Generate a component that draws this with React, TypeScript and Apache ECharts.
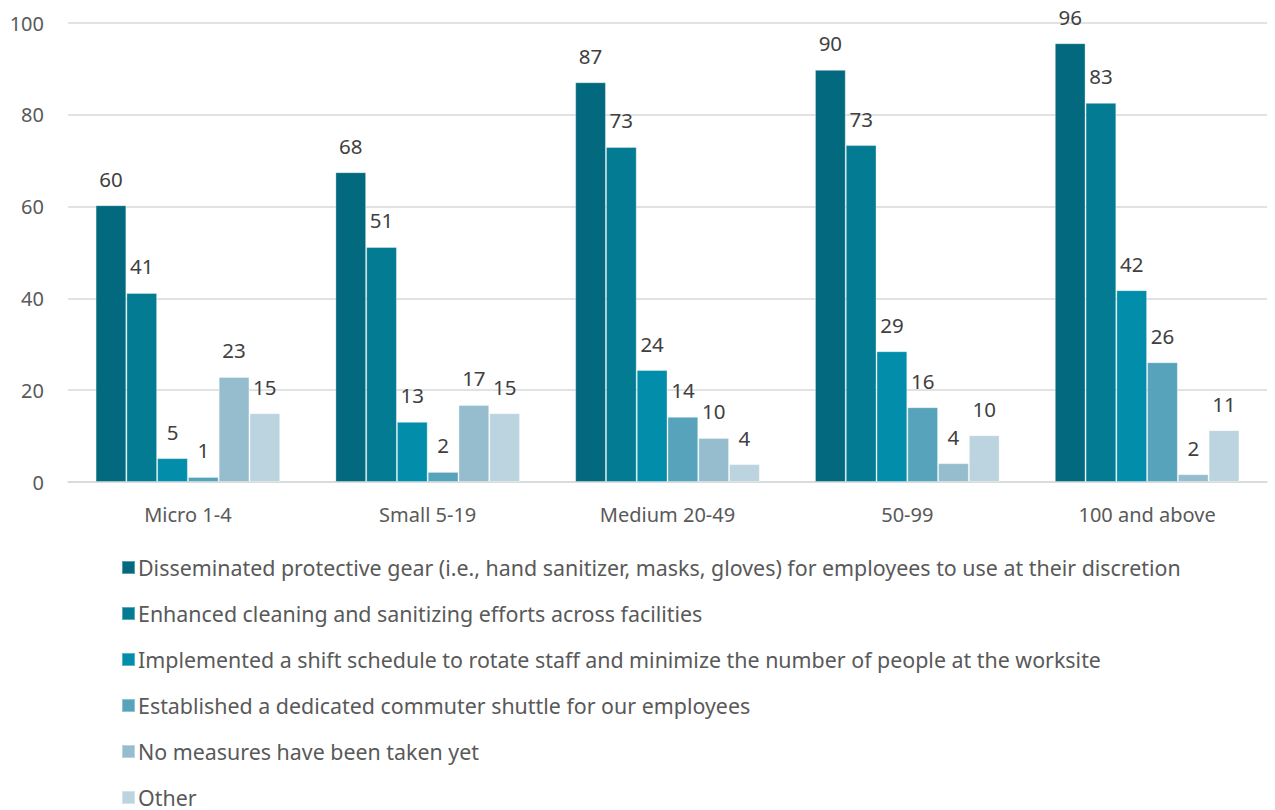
import React, { useEffect, useRef } from "react";
import * as echarts from "echarts";

const categories = ["Micro 1-4", "Small 5-19", "Medium 20-49", "50-99", "100 and above"];
const seriesNames = [
  "Disseminated protective gear (i.e., hand sanitizer, masks, gloves) for employees to use at their discretion",
  "Enhanced cleaning and sanitizing efforts across facilities",
  "Implemented a shift schedule to rotate staff and minimize the number of people at the worksite",
  "Established a dedicated commuter shuttle for our employees",
  "No measures have been taken yet",
  "Other",
];
const protectiveGear = [60.3, 67.5, 87.1, 89.8, 95.6];
const enhancedCleaning = [41.2, 51.2, 73.0, 73.4, 82.6];
const shiftSchedule = [5.2, 13.1, 24.4, 28.5, 41.8];
const commuterShuttle = [1.1, 2.2, 14.2, 16.3, 26.1];
const noMeasures = [22.9, 16.8, 9.6, 4.1, 1.7];
const other = [15.0, 15.0, 3.9, 10.2, 11.3];
const seriesValues = [protectiveGear, enhancedCleaning, shiftSchedule, commuterShuttle, noMeasures, other];
const colors = ["#02697E", "#037B92", "#028DAA", "#58A3BC", "#95BDCE", "#BBD4DF"];
const yTicks = [0, 20, 40, 60, 80, 100];

const FONT = "'Noto Sans', sans-serif";

export default function App() {
  const ref = useRef<HTMLDivElement>(null);
  useEffect(() => {
    document.body.style.margin = "0";
    if (!ref.current) return;
    const chart = echarts.init(ref.current, undefined, { renderer: "svg" });
    chart.setOption({
      animation: false,
      color: colors,
      textStyle: { fontFamily: FONT },
      grid: { left: 68, right: 8, top: 23, bottom: 328, containLabel: false },
      legend: {
        orient: "vertical",
        left: 116,
        top: 552,
        height: 300,
        icon: "rect",
        itemWidth: 13,
        itemHeight: 13,
        itemGap: 25,
        textStyle: { fontSize: 21.4, color: "#595959", fontFamily: FONT, padding: [0, 0, 0, -2] },
        data: seriesNames,
      },
      xAxis: {
        type: "category",
        data: categories,
        axisLine: { lineStyle: { color: "#D9D9D9", width: 1.5 } },
        axisTick: { show: false },
        axisLabel: { fontSize: 20, color: "#595959", margin: 22, fontFamily: FONT },
      },
      yAxis: {
        type: "value",
        min: yTicks[0],
        max: yTicks[yTicks.length - 1],
        interval: 20,
        axisLine: { show: false },
        axisTick: { show: false },
        splitLine: { lineStyle: { color: "#D9D9D9", width: 1.5 } },
        axisLabel: { fontSize: 20, color: "#595959", margin: 24, fontFamily: FONT },
      },
      series: seriesNames.map((name, i) => ({
        name,
        type: "bar",
        data: seriesValues[i],
        barGap: "0%",
        barCategoryGap: "23%",
        itemStyle: { color: colors[i], borderColor: "rgba(255,255,255,0.35)", borderWidth: 1 },
        label: {
          show: true,
          position: "top",
          distance: 16,
          fontSize: 20.5,
          color: "#404040",
          fontFamily: FONT,
          formatter: (p: any) => String(Math.round(p.value)),
        },
      })),
    });
    return () => chart.dispose();
  }, []);
  return <div ref={ref} style={{ width: 1275, height: 810 }} />;
}
